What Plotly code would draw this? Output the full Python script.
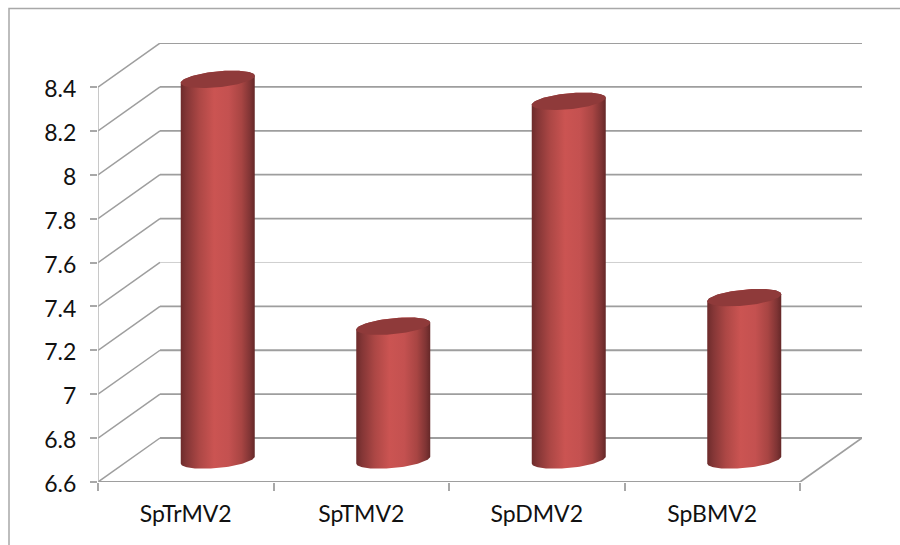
import numpy as np
import plotly.graph_objects as go

categories = ["SpTrMV2", "SpTMV2", "SpDMV2", "SpBMV2"]
values = [8.335, 7.21, 8.235, 7.34]
y_ticks = [6.6, 6.8, 7.0, 7.2, 7.4, 7.6, 7.8, 8.0, 8.2, 8.4]
y_tick_text = ["6.6", "6.8", "7", "7.2", "7.4", "7.6", "7.8", "8", "8.2", "8.4"]

W, H = 900, 545
LEFT, RIGHT, TOP, BOTTOM = 98, 862, 43, 482
UNIT_X = 175.5            # pixels per category
UNIT_Y = 219.4            # pixels per value unit
DEPTH_X = 62 / UNIT_X     # oblique offset of the back wall
DEPTH_Y = 44 / UNIT_Y
Y0 = y_ticks[0]
N = len(categories)

GRID = "#9e9e9e"
BODY_SCALE = [
    [0.00, "#6d2b2b"], [0.08, "#843636"], [0.25, "#ac4745"],
    [0.45, "#cb5452"], [0.65, "#c45150"], [0.82, "#a84543"],
    [0.94, "#7f3434"], [1.00, "#652828"],
]
LID = "#8f3a3a"

fig = go.Figure()


def line(xs, ys, color=GRID, width=1.6):
    fig.add_trace(go.Scatter(x=xs, y=ys, mode="lines", hoverinfo="skip",
                             showlegend=False, cliponaxis=False,
                             line=dict(color=color, width=width)))


# Back wall, floor and left-hand depth lines
for v in y_ticks:
    faint = v == 7.4
    line([0, DEPTH_X], [v, v + DEPTH_Y], GRID, 1.5)
    line([DEPTH_X, N + DEPTH_X], [v + DEPTH_Y, v + DEPTH_Y],
         "#cfcfcf" if faint else GRID, 1.0 if faint else 1.8)
line([N, N + DEPTH_X], [Y0, Y0 + DEPTH_Y], GRID, 1.7)
line([0, N], [Y0, Y0], GRID, 2)
line([0, 0], [Y0, y_ticks[-1]], "#b0b0b0", 1.4)

# Cylinders: a gradient body with a darker tilted lid
RX = 37 / UNIT_X
RY = 8 / UNIT_Y
TILT = 3.5 / UNIT_Y
CENTER_NUDGE = 1 / UNIT_X


def ellipse(cx, cy, t):
    return cx + RX * np.cos(t), cy + TILT * np.cos(t) + RY * np.sin(t)


for i, v in enumerate(values):
    cx = i + 0.5 + DEPTH_X / 2 + CENTER_NUDGE
    base = Y0 + DEPTH_Y / 2
    top = v + DEPTH_Y / 2
    t_low = np.linspace(np.pi, 2 * np.pi, 60)
    t_up = np.linspace(0, np.pi, 60)
    bx, by = ellipse(cx, base, t_low)
    tx, ty = ellipse(cx, top, t_up)
    fig.add_trace(go.Scatter(
        x=np.r_[bx, tx], y=np.r_[by, ty], mode="lines", fill="toself",
        line=dict(width=0), hoverinfo="skip", showlegend=False,
        fillgradient=dict(type="horizontal", colorscale=BODY_SCALE)))
    t = np.linspace(0, 2 * np.pi, 120)
    lx, ly = ellipse(cx, top, t)
    fig.add_trace(go.Scatter(
        x=lx, y=ly, mode="lines", fill="toself", fillcolor=LID,
        line=dict(width=0), hoverinfo="skip", showlegend=False))

# Outer frame, open towards the right and bottom edges of the page
fx = lambda px: (px - LEFT) / (RIGHT - LEFT)
fy = lambda py: (BOTTOM - py) / (BOTTOM - TOP)
fig.add_shape(type="path", xref="paper", yref="paper",
              path=f"M {fx(9)} {fy(545)} L {fx(9)} {fy(8.5)} L {fx(900)} {fy(8.5)}",
              line=dict(color="#a8a8a8", width=1.5))

fig.update_layout(
    width=W, height=H, autosize=False,
    margin=dict(l=LEFT, r=W - RIGHT, t=TOP, b=H - BOTTOM, pad=0),
    paper_bgcolor="white", plot_bgcolor="white", showlegend=False,
    font=dict(family="Lato, sans-serif", color="#111111"),
    xaxis=dict(range=[0, N + DEPTH_X], showgrid=False, zeroline=False, showline=False,
               tickmode="array", tickvals=[i + 0.5 for i in range(N)], ticktext=categories,
               ticks="", ticklabelstandoff=16, tickfont=dict(size=23),
               minor=dict(tickmode="array", tickvals=list(range(N + 1)), ticks="outside",
                          ticklen=8, tickcolor="#a8a8a8", tickwidth=1.5, showgrid=False)),
    yaxis=dict(range=[Y0, Y0 + (BOTTOM - TOP) / UNIT_Y], showgrid=False, zeroline=False,
               showline=False, tickmode="array", tickvals=y_ticks, ticktext=y_tick_text,
               ticks="outside", ticklen=7, tickcolor="#a8a8a8", tickwidth=1.5,
               ticklabelstandoff=9, ticklabelshift=2, tickfont=dict(size=23)),
)

fig.write_html("out.html")
